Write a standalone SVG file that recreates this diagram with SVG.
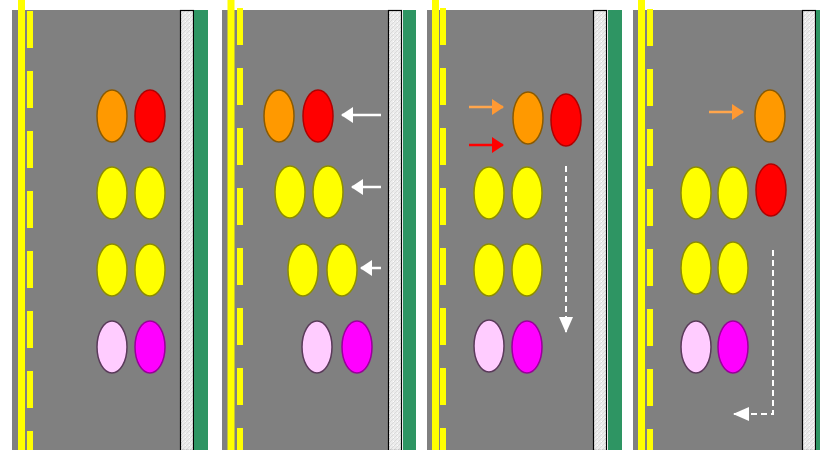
<svg xmlns="http://www.w3.org/2000/svg" width="820" height="450" viewBox="0 0 820 450">
<defs>
<pattern id="hatch" width="4" height="4" patternUnits="userSpaceOnUse">
<rect width="4" height="4" fill="#ececec"/>
<path d="M0 4L4 0" stroke="#d4d4d4" stroke-width="0.8"/>
<rect x="1" y="1" width="1" height="1" fill="#ffffff"/>
</pattern>
<marker id="hw" viewBox="0 0 12 16" refX="11" refY="8" markerWidth="12" markerHeight="16" orient="auto" markerUnits="userSpaceOnUse">
<path d="M0 0L12 8L0 16Z" fill="#ffffff"/>
</marker>
<marker id="hwd" viewBox="0 0 16 14" refX="15" refY="7" markerWidth="16" markerHeight="14" orient="auto" markerUnits="userSpaceOnUse">
<path d="M0 0L16 7L0 14Z" fill="#ffffff"/>
</marker>
<marker id="ho" viewBox="0 0 12 16" refX="11" refY="8" markerWidth="12" markerHeight="16" orient="auto" markerUnits="userSpaceOnUse">
<path d="M0 0L12 8L0 16Z" fill="#ff9933"/>
</marker>
<marker id="hr" viewBox="0 0 12 16" refX="11" refY="8" markerWidth="12" markerHeight="16" orient="auto" markerUnits="userSpaceOnUse">
<path d="M0 0L12 8L0 16Z" fill="#ff0000"/>
</marker>
</defs>
<style>
.road{fill:#808080}
.solid{stroke:#ffff00;stroke-width:7}
.dash{stroke:#ffff00;stroke-width:6;stroke-dasharray:37 23}
.strip{fill:url(#hatch);stroke:#000000;stroke-width:1.2}
.green{fill:#2e9563}
.or{fill:#ff9900;stroke:#8a5a00;stroke-width:1.5}
.rd{fill:#ff0000;stroke:#b00000;stroke-width:1.5}
.ye{fill:#ffff00;stroke:#8c8c00;stroke-width:1.5}
.pk{fill:#ffccff;stroke:#5a3a5a;stroke-width:1.5}
.mg{fill:#ff00ff;stroke:#990099;stroke-width:1.5}
.aw{stroke:#ffffff;stroke-width:2.5;fill:none;marker-end:url(#hw)}
.awd{stroke:#ffffff;stroke-width:2;fill:none;stroke-dasharray:6 4;marker-end:url(#hwd)}
.ao{stroke:#ffa64d;stroke-width:2.5;fill:none;marker-end:url(#ho)}
.ar{stroke:#ff0000;stroke-width:2.5;fill:none;marker-end:url(#hr)}
</style>
<rect width="820" height="450" fill="#ffffff"/>
<g id="roads">
<g id="panel1">
<rect class="road" x="12" y="10" width="168" height="440"/>
<line class="solid" x1="21.5" y1="0" x2="21.5" y2="450"/>
<line class="dash" x1="30" y1="11" x2="30" y2="450"/>
<rect class="strip" x="180.5" y="10.5" width="13" height="440"/>
<rect class="green" x="194" y="10" width="14" height="440"/>
</g>
<g id="panel2">
<rect class="road" x="222" y="10" width="166" height="440"/>
<line class="solid" x1="231" y1="0" x2="231" y2="450"/>
<line class="dash" x1="240" y1="8" x2="240" y2="450"/>
<rect class="strip" x="388.5" y="10.5" width="13" height="440"/>
<rect class="green" x="403" y="10" width="13" height="440"/>
</g>
<g id="panel3">
<rect class="road" x="427" y="10" width="166" height="440"/>
<line class="solid" x1="435.5" y1="0" x2="435.5" y2="450"/>
<line class="dash" x1="443" y1="8" x2="443" y2="450"/>
<rect class="strip" x="593.5" y="10.5" width="13" height="440"/>
<rect class="green" x="608" y="10" width="14" height="440"/>
</g>
<g id="panel4">
<rect class="road" x="633" y="10" width="169" height="440"/>
<line class="solid" x1="641.5" y1="0" x2="641.5" y2="450"/>
<line class="dash" x1="650" y1="9" x2="650" y2="450"/>
<rect class="strip" x="802.5" y="10.5" width="13" height="440"/>
<rect class="green" x="816" y="10" width="4" height="440"/>
</g>
</g>
<g id="vehicles">
<g id="p1v">
<ellipse id="p1-orange" class="or" cx="112" cy="116" rx="15" ry="26"/>
<ellipse id="p1-red" class="rd" cx="150" cy="116" rx="15" ry="26"/>
<ellipse id="p1-y1" class="ye" cx="112" cy="193" rx="15" ry="26"/>
<ellipse id="p1-y2" class="ye" cx="150" cy="193" rx="15" ry="26"/>
<ellipse id="p1-y3" class="ye" cx="112" cy="270" rx="15" ry="26"/>
<ellipse id="p1-y4" class="ye" cx="150" cy="270" rx="15" ry="26"/>
<ellipse id="p1-pink" class="pk" cx="112" cy="347" rx="15" ry="26"/>
<ellipse id="p1-mag" class="mg" cx="150" cy="347" rx="15" ry="26"/>
</g>
<g id="p2v">
<ellipse id="p2-orange" class="or" cx="279" cy="116" rx="15" ry="26"/>
<ellipse id="p2-red" class="rd" cx="318" cy="116" rx="15" ry="26"/>
<ellipse id="p2-y1" class="ye" cx="290" cy="192" rx="15" ry="26"/>
<ellipse id="p2-y2" class="ye" cx="328" cy="192" rx="15" ry="26"/>
<ellipse id="p2-y3" class="ye" cx="303" cy="270" rx="15" ry="26"/>
<ellipse id="p2-y4" class="ye" cx="342" cy="270" rx="15" ry="26"/>
<ellipse id="p2-pink" class="pk" cx="317" cy="347" rx="15" ry="26"/>
<ellipse id="p2-mag" class="mg" cx="357" cy="347" rx="15" ry="26"/>
</g>
<g id="p3v">
<ellipse id="p3-orange" class="or" cx="528" cy="118" rx="15" ry="26"/>
<ellipse id="p3-red" class="rd" cx="566" cy="120" rx="15" ry="26"/>
<ellipse id="p3-y1" class="ye" cx="489" cy="193" rx="15" ry="26"/>
<ellipse id="p3-y2" class="ye" cx="527" cy="193" rx="15" ry="26"/>
<ellipse id="p3-y3" class="ye" cx="489" cy="270" rx="15" ry="26"/>
<ellipse id="p3-y4" class="ye" cx="527" cy="270" rx="15" ry="26"/>
<ellipse id="p3-pink" class="pk" cx="489" cy="346" rx="15" ry="26"/>
<ellipse id="p3-mag" class="mg" cx="527" cy="347" rx="15" ry="26"/>
</g>
<g id="p4v">
<ellipse id="p4-orange" class="or" cx="770" cy="116" rx="15" ry="26"/>
<ellipse id="p4-red" class="rd" cx="771" cy="190" rx="15" ry="26"/>
<ellipse id="p4-y1" class="ye" cx="696" cy="193" rx="15" ry="26"/>
<ellipse id="p4-y2" class="ye" cx="733" cy="193" rx="15" ry="26"/>
<ellipse id="p4-y3" class="ye" cx="696" cy="268" rx="15" ry="26"/>
<ellipse id="p4-y4" class="ye" cx="733" cy="268" rx="15" ry="26"/>
<ellipse id="p4-pink" class="pk" cx="696" cy="347" rx="15" ry="26"/>
<ellipse id="p4-mag" class="mg" cx="733" cy="347" rx="15" ry="26"/>
</g>
</g>
<g id="connectors">
<path class="aw" d="M381 115H342"/>
<path class="aw" d="M381 187H352"/>
<path class="aw" d="M381 268H361"/>
<path class="ao" d="M469 107H503"/>
<path class="ar" d="M469 145H503"/>
<path class="awd" d="M566 166V332"/>
<path class="ao" d="M709 112H743"/>
<path class="awd" d="M773 250V414H734"/>
</g>
</svg>
